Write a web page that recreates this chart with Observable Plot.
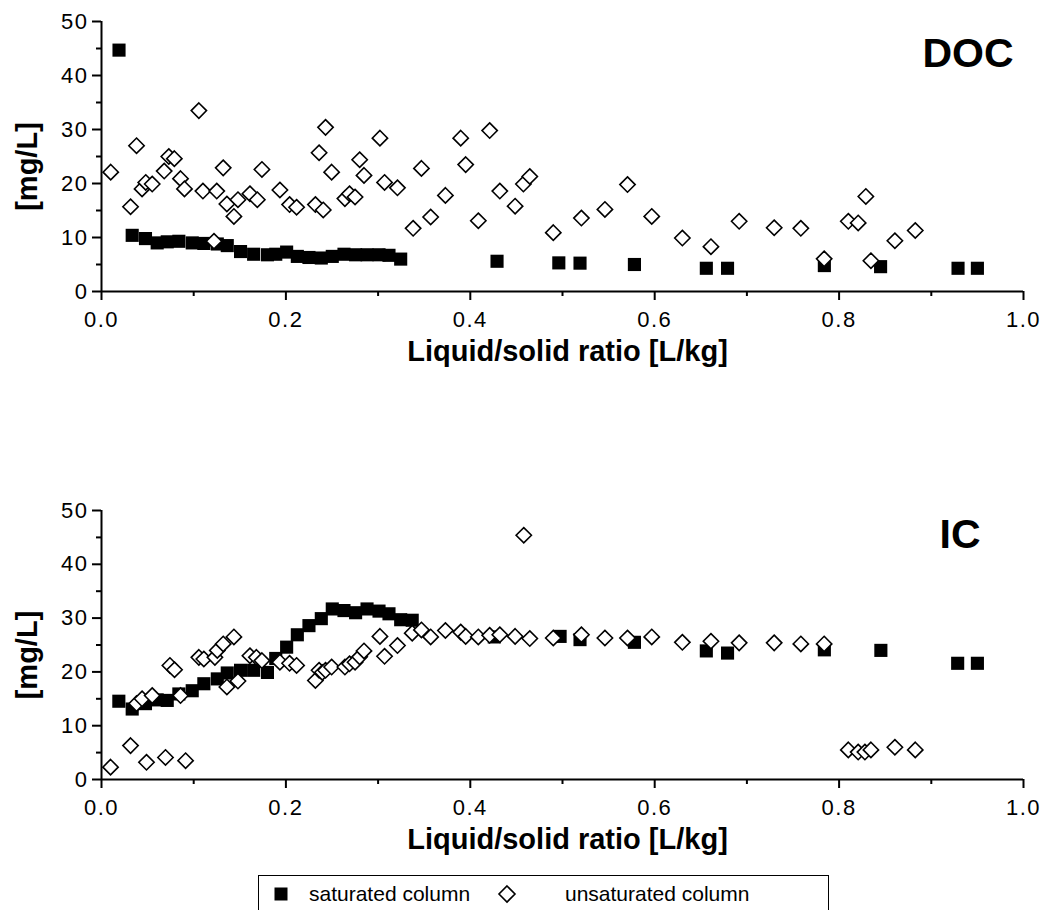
<!DOCTYPE html>
<html>
<head>
<meta charset="utf-8">
<script src="https://cdn.jsdelivr.net/npm/d3@7"></script>
<script src="https://cdn.jsdelivr.net/npm/@observablehq/plot@0.6"></script>
<style>
  html, body { margin: 0; padding: 0; background: white; overflow: hidden; }
  body { width: 1044px; height: 910px; position: relative; font-family: "Liberation Sans", Arial, sans-serif; }
  #charts svg { display: block; }
  #charts g[aria-label="x-axis tick label"] text, #charts g[aria-label="y-axis tick label"] text { letter-spacing: 1.5px; }
  #legend { position: absolute; left: 258px; top: 875px; width: 571px; height: 60px;
            border: 1.6px solid black; box-sizing: border-box; background: white; }
  #legend .item { position: absolute; top: 0; height: 36px; display: flex; align-items: center;
                  font-size: 21px; color: black; white-space: nowrap; }
  #legend svg { display: block; }
</style>
</head>
<body>
<div id="charts"></div>
<div id="legend">
  <div class="item" style="left:14px;"><svg width="16" height="16"><rect x="1.5" y="1.5" width="13" height="13" fill="black"/></svg></div>
  <div class="item" style="left:50px;" id="satLabel"></div>
  <div class="item" style="left:238px;"><svg width="20" height="20"><path d="M10,2 L18,10 L10,18 L2,10 Z" fill="white" stroke="black" stroke-width="1.6"/></svg></div>
  <div class="item" style="left:306px;" id="unsatLabel"></div>
</div>
<script>
// ---- Data ----
const seriesNames = ["saturated column", "unsaturated column"];
const panelNames = ["DOC", "IC"];
const xTickValues = [0, 0.2, 0.4, 0.6, 0.8, 1.0];
const xMinorTicks = [0.1, 0.3, 0.5, 0.7, 0.9];
const yTickValues = [0, 10, 20, 30, 40, 50];
const yMinorTicks = [5, 15, 25, 35, 45];
const xLabel = "Liquid/solid ratio [L/kg]";
const yLabel = "[mg/L]";

// DOC, saturated column
const docSatX = [0.019, 0.0333, 0.0477, 0.0604, 0.0713, 0.0839, 0.0984, 0.111, 0.1256, 0.1364, 0.1508, 0.165, 0.180, 0.189, 0.2008, 0.2124, 0.225, 0.2384, 0.2503, 0.263, 0.2756, 0.288, 0.301, 0.3118, 0.3245, 0.429, 0.496, 0.519, 0.578, 0.656, 0.679, 0.784, 0.845, 0.929, 0.950];
const docSatY = [44.7, 10.4, 9.8, 9.0, 9.2, 9.3, 9.0, 8.9, 8.8, 8.5, 7.4, 6.9, 6.8, 6.9, 7.3, 6.5, 6.3, 6.2, 6.5, 6.9, 6.8, 6.8, 6.8, 6.7, 6.0, 5.6, 5.3, 5.25, 5.0, 4.3, 4.3, 4.8, 4.6, 4.3, 4.3];

// DOC, unsaturated column
const docUnsatX = [0.010, 0.0315, 0.038, 0.044, 0.048, 0.055, 0.068, 0.073, 0.079, 0.0857, 0.090, 0.1056, 0.110, 0.122, 0.125, 0.132, 0.136, 0.1436, 0.148, 0.161, 0.169, 0.174, 0.1935, 0.204, 0.2116, 0.232, 0.236, 0.2405, 0.243, 0.2496, 0.264, 0.269, 0.275, 0.280, 0.2847, 0.302, 0.307, 0.321, 0.338, 0.347, 0.357, 0.373, 0.3896, 0.395, 0.4087, 0.421, 0.432, 0.4486, 0.4576, 0.4645, 0.490, 0.5205, 0.546, 0.5705, 0.5968, 0.630, 0.661, 0.6916, 0.7296, 0.7585, 0.7838, 0.810, 0.8207, 0.829, 0.8345, 0.8605, 0.8826];
const docUnsatY = [22.1, 15.7, 27.0, 19.0, 20.2, 19.9, 22.3, 25.0, 24.6, 20.9, 19.0, 33.5, 18.6, 9.3, 18.6, 22.9, 16.2, 13.9, 17.0, 18.1, 17.0, 22.6, 18.8, 16.1, 15.6, 16.1, 25.7, 15.1, 30.4, 22.1, 17.2, 18.1, 17.5, 24.4, 21.5, 28.4, 20.2, 19.2, 11.7, 22.8, 13.8, 17.8, 28.4, 23.5, 13.1, 29.8, 18.6, 15.8, 19.9, 21.3, 10.9, 13.6, 15.2, 19.8, 13.9, 9.9, 8.3, 13.0, 11.8, 11.7, 6.05, 13.0, 12.7, 17.6, 5.7, 9.4, 11.3];

// IC, saturated column
const icSatX = [0.0188, 0.0333, 0.0477, 0.0604, 0.0713, 0.0839, 0.0984, 0.111, 0.1256, 0.1364, 0.1508, 0.165, 0.180, 0.189, 0.2008, 0.2124, 0.225, 0.2384, 0.2503, 0.263, 0.2756, 0.288, 0.301, 0.3118, 0.3245, 0.337, 0.426, 0.4974, 0.519, 0.578, 0.656, 0.679, 0.784, 0.8453, 0.9286, 0.950];
const icSatY = [14.55, 13.1, 14.1, 14.8, 14.7, 15.9, 16.5, 17.8, 18.7, 19.8, 20.3, 20.3, 19.9, 22.5, 24.6, 26.9, 28.6, 29.9, 31.7, 31.4, 31.0, 31.7, 31.3, 30.8, 29.7, 29.6, 26.5, 26.6, 26.0, 25.5, 23.9, 23.5, 24.1, 24.0, 21.6, 21.6];

// IC, unsaturated column
const icUnsatX = [0.0098, 0.0315, 0.038, 0.044, 0.0488, 0.055, 0.0694, 0.0742, 0.0792, 0.0857, 0.0912, 0.1056, 0.111, 0.123, 0.1256, 0.132, 0.136, 0.1436, 0.148, 0.161, 0.168, 0.174, 0.1935, 0.204, 0.2116, 0.232, 0.236, 0.2395, 0.243, 0.2496, 0.264, 0.269, 0.275, 0.280, 0.2847, 0.302, 0.307, 0.321, 0.337, 0.347, 0.357, 0.373, 0.3896, 0.395, 0.4087, 0.421, 0.432, 0.4486, 0.458, 0.4645, 0.490, 0.5205, 0.546, 0.5705, 0.5968, 0.630, 0.661, 0.6916, 0.7296, 0.7585, 0.7838, 0.810, 0.8207, 0.828, 0.8345, 0.8605, 0.8826];
const icUnsatY = [2.3, 6.3, 14.1, 15.0, 3.2, 15.6, 4.1, 21.2, 20.4, 15.6, 3.5, 22.7, 22.4, 22.7, 24.0, 25.2, 17.2, 26.5, 18.3, 23.0, 22.7, 22.1, 21.8, 21.6, 21.2, 18.4, 20.3, 19.9, 20.3, 20.9, 20.9, 21.5, 21.8, 22.8, 23.9, 26.6, 22.9, 24.9, 27.2, 27.8, 26.5, 27.7, 27.4, 26.6, 26.5, 26.8, 26.9, 26.6, 45.4, 26.2, 26.3, 26.9, 26.3, 26.3, 26.5, 25.5, 25.7, 25.4, 25.4, 25.2, 25.2, 5.5, 5.1, 5.1, 5.5, 6.0, 5.5];

const zip = (xs, ys) => xs.map((x, i) => ({x, y: ys[i]}));

const FONT = "'Liberation Sans', Arial, Helvetica, sans-serif";

function panel({sat, unsat, name, height, marginBottom, nameDx, nameDy}) {
  return Plot.plot({
    width: 1044,
    height,
    marginLeft: 101,
    marginRight: 21,
    marginTop: 21,
    marginBottom,
    style: {fontFamily: FONT, fontSize: "22px", background: "white", color: "black", overflow: "visible"},
    x: {domain: [0, 1]},
    y: {domain: [0, 50]},
    marks: [
      Plot.axisX({ticks: xTickValues, tickFormat: d3.format(".1f"), tickSize: 9, tickPadding: 11, strokeWidth: 2, fontSize: 22, label: null}),
      Plot.axisX({ticks: xMinorTicks, tickSize: 5, text: null, strokeWidth: 2, label: null}),
      Plot.axisY({ticks: yTickValues, tickSize: 9, tickPadding: 4, strokeWidth: 2, fontSize: 22, label: null}),
      Plot.axisY({ticks: yMinorTicks, tickSize: 5, text: null, strokeWidth: 2, label: null}),
      Plot.ruleY([0], {strokeWidth: 2}),
      Plot.ruleX([0], {strokeWidth: 2}),
      Plot.dot(sat, {x: "x", y: "y", symbol: "square", r: 7.4, fill: "black", stroke: "none"}),
      Plot.dot(unsat, {x: "x", y: "y", symbol: "diamond2", r: 6.9, fill: "white", stroke: "black", strokeWidth: 1.6}),
      Plot.text([yLabel], {text: d => d, frameAnchor: "left", dx: -74, dy: 10, rotate: -90, fontSize: 29, fontWeight: "bold", textAnchor: "middle", lineAnchor: "middle"}),
      Plot.text([xLabel], {text: d => d, frameAnchor: "bottom", dx: 5, dy: 60, fontSize: 29, fontWeight: "bold", textAnchor: "middle", lineAnchor: "middle"}),
      Plot.text([name], {text: d => d, frameAnchor: "top-right", dx: nameDx, dy: nameDy, fontSize: 41, fontWeight: "bold", textAnchor: "end", lineAnchor: "middle"})
    ]
  });
}

const charts = document.getElementById("charts");
charts.appendChild(panel({sat: zip(docSatX, docSatY), unsat: zip(docUnsatX, docUnsatY), name: panelNames[0], height: 489, marginBottom: 198, nameDx: -10, nameDy: 32}));
charts.appendChild(panel({sat: zip(icSatX, icSatY), unsat: zip(icUnsatX, icUnsatY), name: panelNames[1], height: 376, marginBottom: 86, nameDx: -43, nameDy: 24}));

document.getElementById("satLabel").textContent = seriesNames[0];
document.getElementById("unsatLabel").textContent = seriesNames[1];
</script>
</body>
</html>
